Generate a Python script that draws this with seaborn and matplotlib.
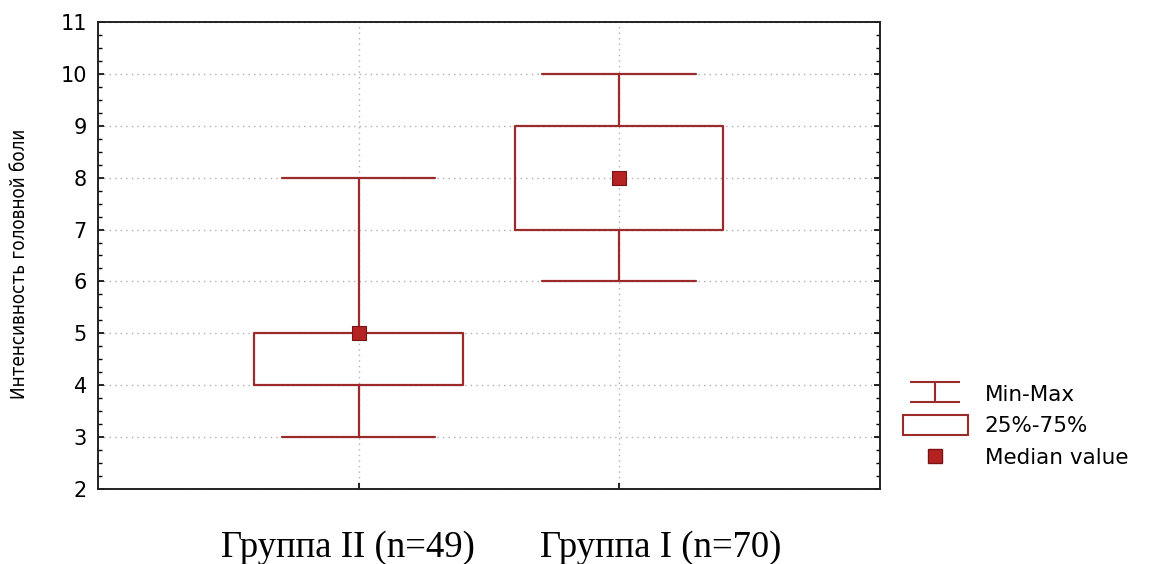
import numpy as np
import pandas as pd
import matplotlib
matplotlib.use("Agg")
import matplotlib.pyplot as plt
import seaborn as sns
from matplotlib.lines import Line2D
from matplotlib.patches import Patch
from matplotlib.path import Path
from matplotlib.ticker import AutoMinorLocator, MultipleLocator
from matplotlib.transforms import ScaledTranslation

# Данные: интенсивность головной боли по группам
grupos = ["Группа II (n=49)", "Группа I (n=70)"]
minimos = [3, 6]
q25 = [4, 7]
medianas = [5, 8]
q75 = [5, 9]
maximos = [8, 10]

color_linea = "#9b2b2b"
color_mediana = "#b52222"

# Para cada grupo, cinco puntos que reproducen min, cuartiles, mediana y max
filas = []
for g, a, b, c, d, e in zip(grupos, minimos, q25, medianas, q75, maximos):
    for v in (a, b, c, d, e):
        filas.append({"grupo": g, "valor": v})
df = pd.DataFrame(filas)
df_med = pd.DataFrame({"grupo": grupos, "valor": medianas})

sns.set_style("ticks")
plt.rcParams["font.family"] = ["DejaVu Sans"]
plt.rcParams["text.color"] = "black"
plt.rcParams["xtick.color"] = "black"
plt.rcParams["ytick.color"] = "black"
plt.rcParams["axes.labelcolor"] = "black"

fig = plt.figure(figsize=(11.53, 5.64), dpi=100)
ax = fig.add_axes([0.085, 0.133, 0.678, 0.828])

sns.boxplot(
    x="grupo", y="valor", data=df, order=grupos, ax=ax,
    whis=(0, 100), width=0.8, fill=False, color=color_linea,
    linewidth=1.6, showfliers=False,
    medianprops={"linewidth": 0},
    capwidths=0.59,
)
sns.scatterplot(
    x="grupo", y="valor", data=df_med, ax=ax, marker="s", s=110,
    color=color_mediana, edgecolor="#7a1414", linewidth=0.8, zorder=5,
)

ax.set_xlim(-1, 2)
ax.set_ylim(2, 11)
ax.yaxis.set_major_locator(MultipleLocator(1))
ax.yaxis.set_minor_locator(AutoMinorLocator(4))
ax.grid(True, which="major", linestyle=(0, (1, 3)), color="#b0b0b0", linewidth=1)
ax.set_axisbelow(True)
for s in ax.spines.values():
    s.set_visible(True)
    s.set_linewidth(1.4)
    s.set_color("#222222")

ax.tick_params(axis="y", which="both", direction="in", left=True, right=True,
               labelsize=15, pad=8)
ax.tick_params(axis="y", which="major", length=4, width=1.2)
ax.tick_params(axis="y", which="minor", length=3, width=1.0)
ax.tick_params(axis="x", direction="in", length=4, width=1.2, pad=30)

ax.set_xlabel("")
ax.set_ylabel("Интенсивность головной боли", family="DejaVu Sans",
              fontstretch="condensed", fontsize=13.5)
ax.yaxis.set_label_coords(-0.088, 0.482)

ax.set_xticks(range(len(grupos)))
ax.set_xticklabels(grupos, family=["Liberation Serif", "DejaVu Serif"], fontsize=26.5)
for lab, dx in zip(ax.get_xticklabels(), [-11, 42]):
    lab.set_transform(lab.get_transform() + ScaledTranslation(dx / 100, 0, fig.dpi_scale_trans))

# Leyenda
cap_path = Path(
    [(-2.4, 1), (2.4, 1), (0, 1), (0, -1), (-2.4, -1), (2.4, -1)],
    [Path.MOVETO, Path.LINETO, Path.MOVETO, Path.LINETO, Path.MOVETO, Path.LINETO],
)
h_minmax = Line2D([], [], linestyle="none", marker=cap_path, markersize=36,
                  markerfacecolor="none", markeredgecolor=color_linea, markeredgewidth=1.5)
h_box = Patch(facecolor="white", edgecolor=color_linea, linewidth=1.5)
h_med = Line2D([], [], linestyle="none", marker="s", markersize=10,
               markerfacecolor=color_mediana, markeredgecolor="#7a1414")
fig.legend([h_minmax, h_box, h_med], ["Min-Max", "25%-75%", "Median value"],
           loc="center left", bbox_to_anchor=(0.772, 0.245), frameon=False,
           fontsize=15.5, handlelength=3.0, handleheight=1.0, labelspacing=0.5,
           handletextpad=0.8, borderaxespad=0.2)

fig.savefig("out.png", dpi=100)
